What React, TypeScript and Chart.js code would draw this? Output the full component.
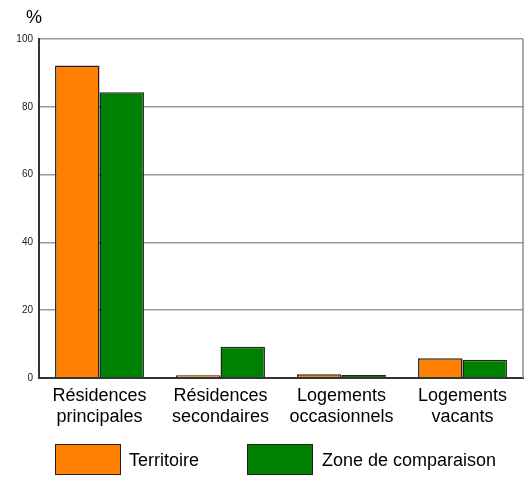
import React, { useEffect, useRef } from "react";
import { Chart, registerables } from "chart.js";

Chart.register(...registerables);

const categories: string[][] = [
  ["Résidences", "principales"],
  ["Résidences", "secondaires"],
  ["Logements", "occasionnels"],
  ["Logements", "vacants"],
];
const territoire: number[] = [92.2, 0.8, 1.1, 5.8];
const zoneComparaison: number[] = [84.3, 9.2, 0.9, 5.4];
const yTicks: number[] = [0, 20, 40, 60, 80, 100];
const seriesNames: string[] = ["Territoire", "Zone de comparaison"];
const seriesColors: string[] = ["#ff8000", "#008000"];

const FONT = "'Liberation Sans', Arial, Helvetica, sans-serif";

const extrasPlugin = {
  id: "extras",
  afterDraw(chart: any) {
    const { ctx, chartArea } = chart;
    ctx.save();
    // right frame line
    ctx.strokeStyle = "#8c8c8c";
    ctx.lineWidth = 1.5;
    ctx.beginPath();
    ctx.moveTo(chartArea.right, chartArea.top);
    ctx.lineTo(chartArea.right, chartArea.bottom);
    ctx.stroke();
    // unit label
    ctx.fillStyle = "#000";
    ctx.font = `18px ${FONT}`;
    ctx.textAlign = "left";
    ctx.textBaseline = "alphabetic";
    ctx.fillText("%", chartArea.left - 13, chartArea.top - 16);
    ctx.restore();
  },
};

export default function App() {
  const canvasRef = useRef<HTMLCanvasElement | null>(null);

  useEffect(() => {
    document.body.style.margin = "0";
    const canvas = canvasRef.current;
    if (!canvas) return;
    const chart = new Chart(canvas, {
      type: "bar",
      data: {
        labels: categories,
        datasets: [
          {
            label: seriesNames[0],
            data: territoire,
            backgroundColor: seriesColors[0],
            borderColor: "#222",
            borderWidth: 1.5,
            categoryPercentage: 0.735,
            barPercentage: 1,
          },
          {
            label: seriesNames[1],
            data: zoneComparaison,
            backgroundColor: seriesColors[1],
            borderColor: "#222",
            borderWidth: 1.5,
            categoryPercentage: 0.735,
            barPercentage: 1,
          },
        ],
      },
      options: {
        animation: false,
        responsive: false,
        maintainAspectRatio: false,
        devicePixelRatio: 1,
        layout: { padding: { top: 39, right: 8, left: 0, bottom: 0 } },
        plugins: {
          legend: { display: false },
          tooltip: { enabled: false },
          title: { display: false },
        },
        scales: {
          x: {
            grid: { display: false, drawTicks: false },
            border: { display: true, color: "#333", width: 2 },
            ticks: {
              color: "#000",
              font: { family: FONT, size: 18, lineHeight: 1.15 },
              padding: 8,
              maxRotation: 0,
              autoSkip: false,
            },
            afterFit: (scale: any) => {
              scale.height = 99;
            },
          },
          y: {
            min: 0,
            max: 100,
            afterBuildTicks: (scale: any) => {
              scale.ticks = yTicks.map((v) => ({ value: v }));
            },
            grid: { color: "#999", lineWidth: 1.5, drawTicks: false },
            border: { display: true, color: "#333", width: 2 },
            ticks: {
              color: "#222",
              font: { family: FONT, size: 10 },
              padding: 6,
            },
            afterFit: (scale: any) => {
              scale.width = 39;
            },
          },
        },
      },
      plugins: [extrasPlugin],
    });
    return () => chart.destroy();
  }, []);

  const box = (color: string, left: number) => (
    <div
      style={{
        position: "absolute",
        left,
        top: 444,
        width: 64,
        height: 29,
        background: color,
        border: "1.5px solid #222",
      }}
    />
  );
  const text = (t: string, left: number) => (
    <div
      style={{
        position: "absolute",
        left,
        top: 450,
        fontFamily: FONT,
        fontSize: 18,
        lineHeight: "20px",
        color: "#000",
        whiteSpace: "nowrap",
      }}
    >
      {t}
    </div>
  );

  return (
    <div style={{ position: "relative", width: 531, height: 477, background: "#fff" }}>
      <canvas ref={canvasRef} width={531} height={477} style={{ display: "block" }} />
      {box(seriesColors[0], 55)}
      {text(seriesNames[0], 129)}
      {box(seriesColors[1], 247)}
      {text(seriesNames[1], 322)}
    </div>
  );
}
